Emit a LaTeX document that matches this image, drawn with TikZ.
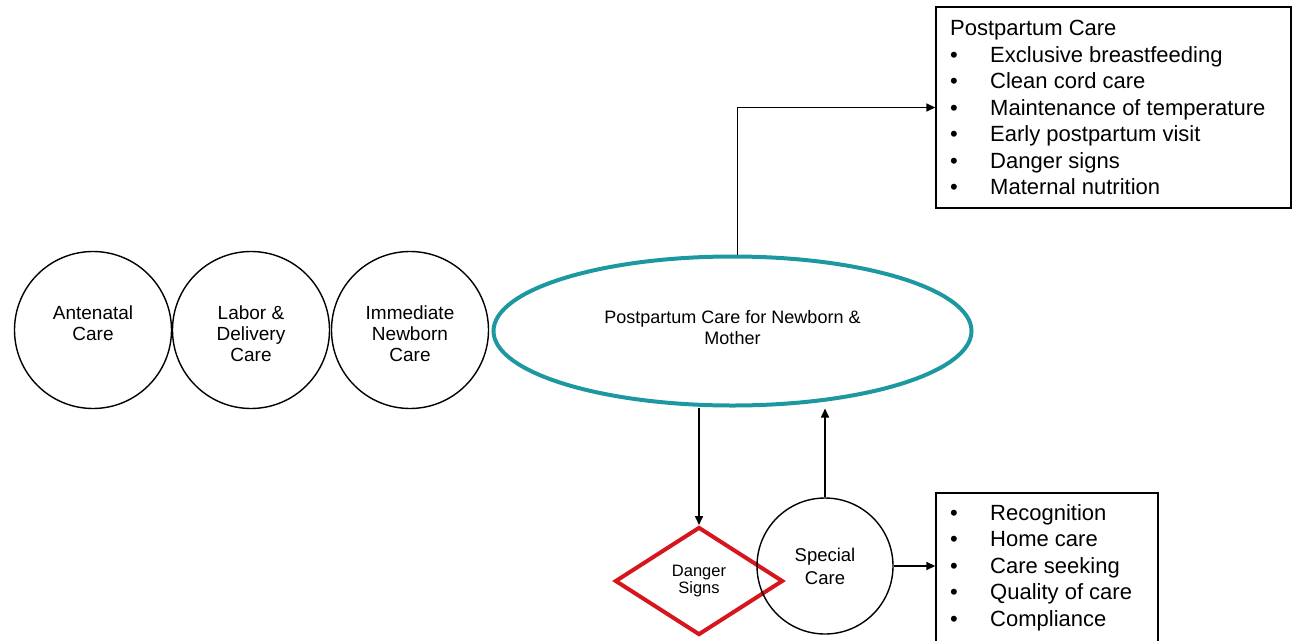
\documentclass[tikz,border=0pt]{standalone}
\usepackage{fontspec}
\setmainfont{Liberation Sans}
\usetikzlibrary{shapes.geometric,arrows.meta,calc}
\definecolor{tealc}{RGB}{30,152,160}
\definecolor{redc}{RGB}{214,22,28}
\begin{document}
\begin{tikzpicture}[x=1pt,y=-1pt,
  circ/.style={draw,circle,line width=1.4pt,inner sep=0pt},
  ctext/.style={align=center,font=\fontsize{19}{21}\selectfont,inner sep=0pt},
  boxr/.style={draw,rectangle,line width=1.4pt,inner sep=0pt},
  btext/.style={anchor=base west,inner sep=0pt,font=\fontsize{22}{24}\selectfont},
  conn/.style={line width=1.5pt},
  arr/.style={conn,-{Triangle[length=9pt,width=8pt]}}]
\useasboundingbox (0,0) rectangle (1293,640);
% left circles
\node[circ,minimum size=157pt] (c1) at (93,330) {};
\node[circ,minimum size=157pt] (c2) at (251,330) {};
\node[circ,minimum size=157pt] (c3) at (410,330) {};
\node[ctext,anchor=north] (t1) at (93,306) {Antenatal\\Care};
\node[ctext,anchor=north] (t2) at (251,306) {Labor \&\\Delivery\\Care};
\node[ctext,anchor=north] (t3) at (410,306) {Immediate\\Newborn\\Care};
% ellipse
\node[draw=tealc,ellipse,line width=4pt,minimum width=478pt,minimum height=149pt,inner sep=0pt,
  align=center,font=\fontsize{18}{21}\selectfont] (ell) at (732.5,331) {};
\node[align=center,font=\fontsize{18}{21}\selectfont,inner sep=0pt] (et) at (732.5,328)
  {Postpartum Care for Newborn \&\\Mother};
% top box
\node[boxr,minimum width=355pt,minimum height=201pt] (box1) at (1113.5,107.5) {};
\node[btext] (h1) at (950,35.5) {Postpartum Care};
\foreach \i/\t in {1/Exclusive breastfeeding,2/Clean cord care,3/Maintenance of temperature,4/Early postpartum visit,5/Danger signs,6/Maternal nutrition}{
  \node[btext] (p\i) at (990,{35.5+26.5*\i}) {\t};
  \node[btext] (pb\i) at (950,{35.5+26.5*\i}) {•};
}
% diamond and special care
\node[draw=redc,diamond,line width=4pt,minimum width=168pt,minimum height=108pt,inner sep=0pt,
  align=center,font=\fontsize{16.5}{17}\selectfont] (dia) at (699,581) {Danger\\Signs};
\node[circ,minimum size=136pt,align=center,font=\fontsize{18.5}{23}\selectfont] (sc) at (825,566) {Special\\Care};
% bottom box
\node[boxr,minimum width=222pt,minimum height=160pt] (box2) at (1047,573) {};
\foreach \i/\t in {0/Recognition,1/Home care,2/Care seeking,3/Quality of care,4/Compliance}{
  \node[btext] (q\i) at (990,{520+26.5*\i}) {\t};
  \node[btext] (qb\i) at (950,{520+26.5*\i}) {•};
}
% connectors
\draw[arr] ([xshift=5pt]ell.north) |- (box1.west);
\draw[arr] (ell.south -| dia.north) -- (dia.north);
\draw[arr] (sc.north) -- ($(sc.north |- ell.south)+(0,1)$);
\draw[arr] (sc.east) -- (sc.east -| box2.west);
\end{tikzpicture}
\end{document}
